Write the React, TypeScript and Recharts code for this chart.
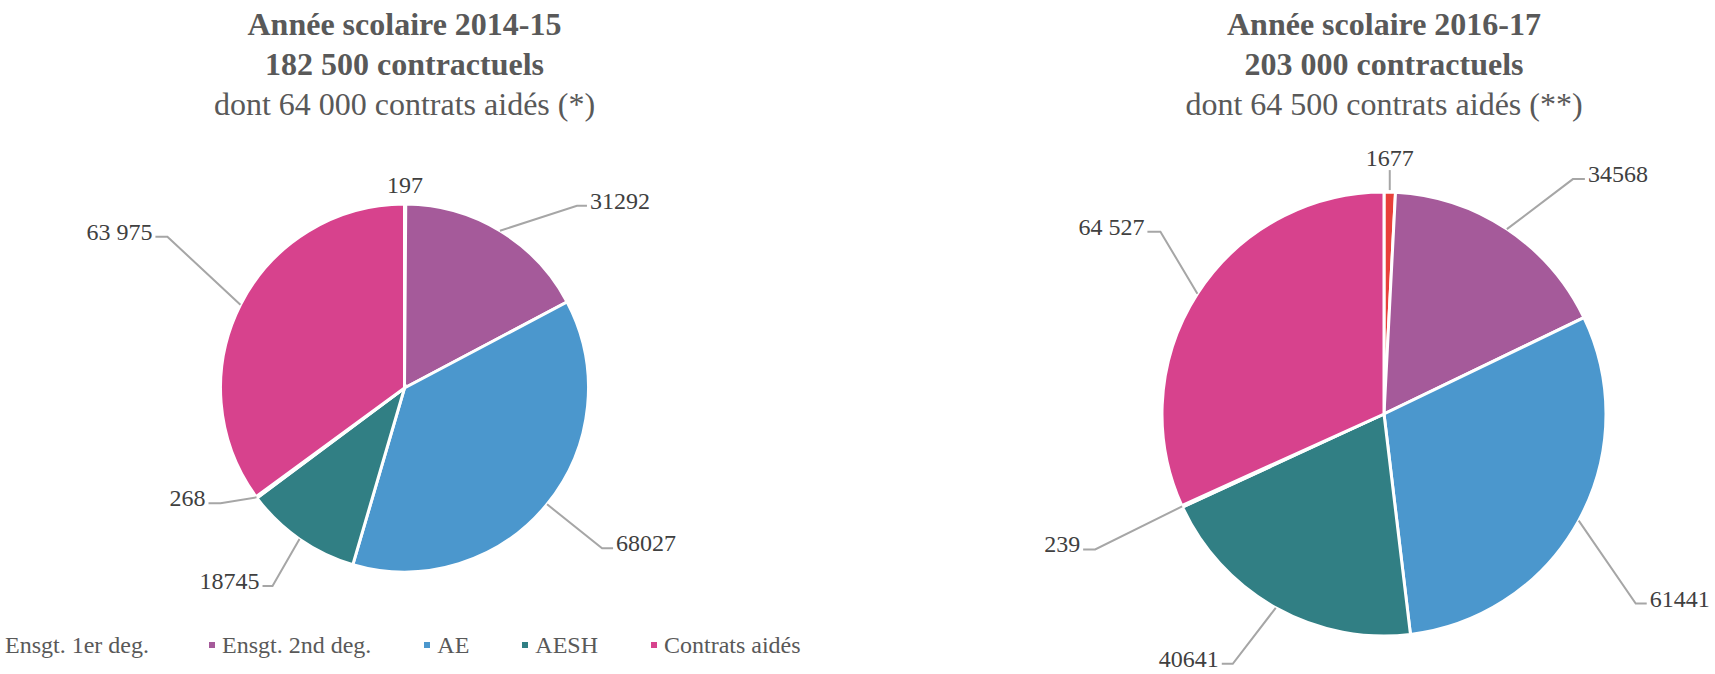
import { PieChart, Pie, Cell } from "recharts"

const categories = [
  "Ensgt. 1er deg.",
  "Ensgt. 2nd deg.",
  "AE",
  "AESH",
  "Autres",
  "Contrats aidés",
]
const values2014 = [197, 31292, 68027, 18745, 268, 63975]
const values2016 = [1677, 34568, 61441, 40641, 239, 64527]

const legendItems = ["Ensgt. 1er deg.", "Ensgt. 2nd deg.", "AE", "AESH", "Contrats aidés"]

const titles2014 = ["Année scolaire 2014-15", "182 500 contractuels", "dont 64 000 contrats aidés (*)"]
const titles2016 = ["Année scolaire 2016-17", "203 000 contractuels", "dont 64 500 contrats aidés (**)"]

const colors: Record<string, string> = {
  "Ensgt. 1er deg.": "#E8403A",
  "Ensgt. 2nd deg.": "#A55A9A",
  AE: "#4B97CD",
  AESH: "#317F84",
  Autres: "#F4F4F4",
  "Contrats aidés": "#D7428D",
}

// leader line layout: elbow offset from slice edge, then horizontal leg
type LabelPos = { dx: number; dy: number; leg: number; line?: boolean }

const layout2014: LabelPos[] = [
  { dx: 0, dy: -7, leg: 0, line: false },
  { dx: 77, dy: -25, leg: 10 },
  { dx: 55, dy: 44, leg: 11 },
  { dx: -27, dy: 47, leg: -10 },
  { dx: -36, dy: 6, leg: -12 },
  { dx: -73, dy: -68, leg: -12 },
]

const layout2016: LabelPos[] = [
  { dx: 0, dy: -22, leg: 0 },
  { dx: 66, dy: -50, leg: 12 },
  { dx: 57, dy: 83, leg: 11 },
  { dx: -43, dy: 56, leg: -11 },
  { dx: -87, dy: 43, leg: -12 },
  { dx: -37, dy: -62, leg: -13 },
]

const data2014 = categories.map((name, i) => ({ name, value: values2014[i] }))
const data2016 = categories.map((name, i) => ({ name, value: values2016[i] }))

const RADIAN = Math.PI / 180
const FONT = "'Liberation Serif', 'Times New Roman', serif"

const fmt = (name: string, v: number) =>
  name === "Contrats aidés" ? String(v).replace(/\B(?=(\d{3})+(?!\d))/g, " ") : String(v)

function makeLabel(layout: LabelPos[]) {
  return (props: any) => {
    const { cx, cy, midAngle, outerRadius, index, value, name } = props
    const p = layout[index]
    const ex = cx + outerRadius * Math.cos(-midAngle * RADIAN)
    const ey = cy + outerRadius * Math.sin(-midAngle * RADIAN)
    const bx = ex + p.dx
    const by = ey + p.dy
    const hx = bx + p.leg
    const text = fmt(name, value)
    if (p.leg === 0) {
      return (
        <g key={`l-${index}`}>
          {p.line !== false && (
            <polyline points={`${ex},${ey - 2} ${bx},${by}`} fill="none" stroke="#A6A6A6" strokeWidth={2} />
          )}
          <text x={bx} y={by - 12} textAnchor="middle" dominantBaseline="central" fill="#404040" fontSize={24} fontFamily={FONT}>
            {text}
          </text>
        </g>
      )
    }
    return (
      <g key={`l-${index}`}>
        <polyline points={`${ex},${ey} ${bx},${by} ${hx},${by}`} fill="none" stroke="#A6A6A6" strokeWidth={2} />
        <text
          x={hx + (p.leg > 0 ? 3 : -3)}
          y={by - 5}
          textAnchor={p.leg > 0 ? "start" : "end"}
          dominantBaseline="central"
          fill="#404040"
          fontSize={24}
          fontFamily={FONT}
        >
          {text}
        </text>
      </g>
    )
  }
}

function Title({ lines, center }: { lines: string[]; center: number }) {
  return (
    <div
      style={{
        position: "absolute",
        left: center - 300,
        top: 4,
        width: 600,
        textAlign: "center",
        color: "#595959",
        fontFamily: FONT,
        fontSize: 32,
        lineHeight: "40px",
      }}
    >
      <div style={{ fontWeight: "bold" }}>{lines[0]}</div>
      <div style={{ fontWeight: "bold" }}>{lines[1]}</div>
      <div>{lines[2]}</div>
    </div>
  )
}

export default function App() {
  return (
    <div
      style={{
        position: "absolute",
        left: 0,
        top: 0,
        width: 1715,
        height: 674,
        background: "#fff",
        overflow: "hidden",
        fontFamily: FONT,
      }}
    >
      <PieChart
        width={1715}
        height={674}
        margin={{ top: 0, right: 0, bottom: 0, left: 0 }}
        style={{ position: "absolute", left: 0, top: 0 }}
      >
        <Pie
          data={data2014}
          dataKey="value"
          nameKey="name"
          cx={404.5}
          cy={388}
          outerRadius={184}
          startAngle={90}
          endAngle={-270}
          stroke="#fff"
          strokeWidth={3}
          labelLine={false}
          label={makeLabel(layout2014)}
          isAnimationActive={false}
        >
          {data2014.map((d) => (
            <Cell key={d.name} fill={colors[d.name]} />
          ))}
        </Pie>
        <Pie
          data={data2016}
          dataKey="value"
          nameKey="name"
          cx={1384}
          cy={414}
          outerRadius={222}
          startAngle={90}
          endAngle={-270}
          stroke="#fff"
          strokeWidth={3}
          labelLine={false}
          label={makeLabel(layout2016)}
          isAnimationActive={false}
        >
          {data2016.map((d) => (
            <Cell key={d.name} fill={colors[d.name]} />
          ))}
        </Pie>
      </PieChart>

      <Title lines={titles2014} center={404.5} />
      <Title lines={titles2016} center={1384} />

      <div
        style={{
          position: "absolute",
          left: -8,
          top: 633,
          display: "flex",
          alignItems: "center",
          whiteSpace: "nowrap",
          color: "#595959",
          fontSize: 24,
          lineHeight: "24px",
        }}
      >
        {legendItems.map((name, i) => (
          <div key={name} style={{ display: "flex", alignItems: "center", marginLeft: i === 0 ? 0 : i === 1 ? 60 : 53 }}>
            <span style={{ width: 6, height: 6, background: colors[name], marginRight: 7, display: "inline-block" }} />
            <span>{name}</span>
          </div>
        ))}
      </div>
    </div>
  )
}
